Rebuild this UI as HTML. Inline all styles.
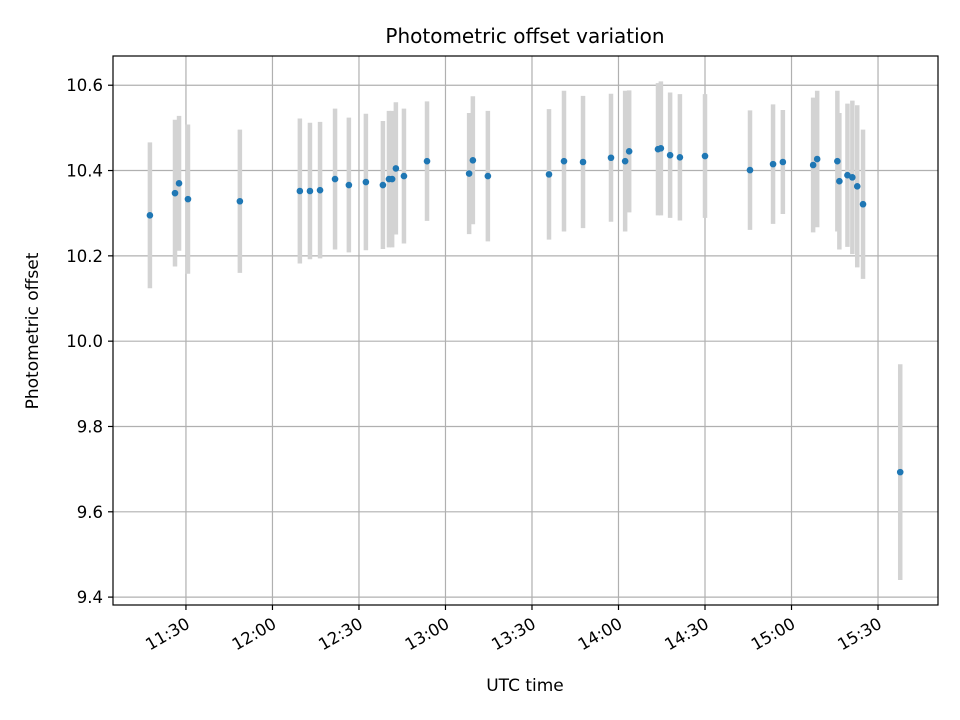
<!DOCTYPE html>
<html><head><meta charset="utf-8"><style>
html,body{margin:0;padding:0;background:#fff;}
svg{display:block;font-family:"DejaVu Sans","Liberation Sans",sans-serif;}
</style></head><body>
<svg id="chart" width="960" height="720" viewBox="0 0 960 720">
<rect x="0" y="0" width="960" height="720" fill="#fff"/>
<text x="525" y="43" text-anchor="middle" font-size="20">Photometric offset variation</text>
<g id="grid"></g>
<g id="errs"></g>
<g id="pts"></g>
<rect x="113" y="56" width="825" height="549" fill="none" stroke="#000" stroke-width="1.2"/>
<g id="xticks"></g>
<g id="yticks"></g>
<text x="525" y="691" text-anchor="middle" font-size="17">UTC time</text>
<text transform="translate(38,331) rotate(-90)" text-anchor="middle" font-size="17">Photometric offset</text>
</svg>
<script>
// minutes since 11:00
const times=[17.5,26.2,27.6,30.7,48.7,69.5,73,76.5,81.7,86.5,92.4,98.3,100.4,101.5,102.8,105.6,113.6,128.2,129.5,134.7,155.9,161.1,167.7,177.4,182.3,183.7,193.7,194.7,197.9,201.3,210,225.6,233.6,237,247.5,248.9,255.9,256.6,259.4,261.1,262.8,264.8,277.7];
const values=[10.295,10.347,10.37,10.333,10.328,10.352,10.352,10.354,10.38,10.366,10.373,10.366,10.38,10.38,10.405,10.387,10.422,10.393,10.424,10.387,10.391,10.422,10.42,10.43,10.422,10.445,10.45,10.452,10.436,10.431,10.434,10.401,10.415,10.42,10.413,10.427,10.422,10.375,10.389,10.384,10.363,10.321,9.693];
const errors=[0.171,0.172,0.158,0.175,0.168,0.17,0.16,0.16,0.165,0.158,0.16,0.15,0.16,0.16,0.155,0.158,0.14,0.142,0.15,0.153,0.153,0.165,0.155,0.15,0.165,0.143,0.155,0.157,0.147,0.148,0.145,0.14,0.14,0.122,0.158,0.16,0.165,0.16,0.168,0.18,0.19,0.175,0.253];
const xTickMin=[30,60,90,120,150,180,210,240,270];
const xTickLabels=["11:30","12:00","12:30","13:00","13:30","14:00","14:30","15:00","15:30"];
const yTickVals=[9.4,9.6,9.8,10.0,10.2,10.4,10.6];
const yTickLabels=["9.4","9.6","9.8","10.0","10.2","10.4","10.6"];

const L=113,R=938,T=56,B=605;
const xMin=4.7,xMax=290.8;
const yMin=9.3815,yMax=10.6685;
const xs=t=>L+(t-xMin)/(xMax-xMin)*(R-L);
const ys=v=>B-(v-yMin)/(yMax-yMin)*(B-T);
const NS="http://www.w3.org/2000/svg";
function mk(tag,attrs,parent){const e=document.createElementNS(NS,tag);for(const k in attrs)e.setAttribute(k,attrs[k]);parent.appendChild(e);return e;}
const grid=document.getElementById('grid'),xt=document.getElementById('xticks'),yt=document.getElementById('yticks');
xTickMin.forEach((t,i)=>{
  const x=xs(t);
  const g=mk('line',{x1:x,x2:x,y1:T,y2:B,stroke:'#b0b0b0','stroke-width':1.2},grid);
  
  
  mk('line',{x1:x,x2:x,y1:B,y2:B+5,stroke:'#000','stroke-width':1.2},xt);
  const tx=mk('text',{x:0,y:0,'font-size':16.5,'text-anchor':'end',transform:`translate(${x+5},${B+22}) rotate(-30)`},xt);
  tx.textContent=xTickLabels[i];
  
  
});
yTickVals.forEach((v,i)=>{
  const y=ys(v);
  const g=mk('line',{x1:L,x2:R,y1:y,y2:y,stroke:'#b0b0b0','stroke-width':1.2},grid);
  
  
  mk('line',{x1:L-5,x2:L,y1:y,y2:y,stroke:'#000','stroke-width':1.2},yt);
  const tx=mk('text',{x:L-10,y:y+6,'font-size':16.5,'text-anchor':'end'},yt);
  tx.textContent=yTickLabels[i];
  
  
});
const eg=document.getElementById('errs'),pg=document.getElementById('pts');
times.forEach((t,i)=>{
  const x=xs(t);
  const e=mk('line',{x1:x,x2:x,y1:ys(values[i]+errors[i]),y2:ys(values[i]-errors[i]),stroke:'#d3d3d3','stroke-width':4.5},eg);
  
  
  const c=mk('circle',{cx:x,cy:ys(values[i]),r:3.3,fill:'#1f77b4'},pg);
  
  
});
</script>
</body></html>
